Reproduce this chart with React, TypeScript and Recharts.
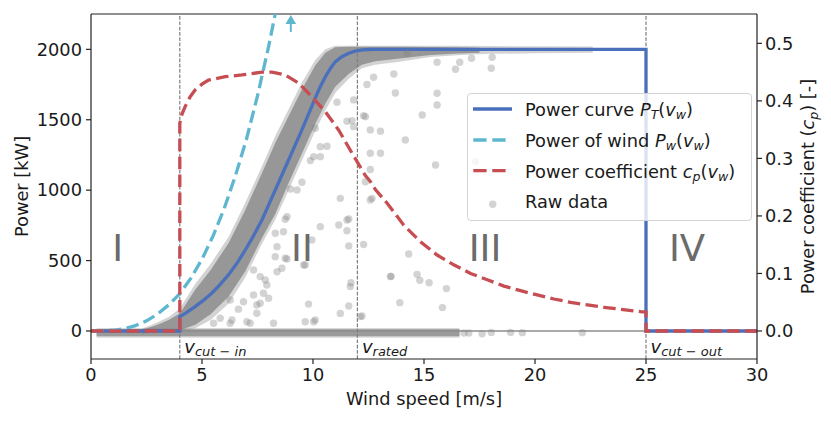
import React from 'react';
import {
  ComposedChart,
  XAxis,
  YAxis,
  Line,
  Area,
  Scatter,
  ReferenceLine,
  ReferenceDot,
  Legend,
} from 'recharts';

const FONT = '"DejaVu Sans", Verdana, sans-serif';
const BLUE = '#4a70bb';
const CYAN = '#5fb6cf';
const RED = '#c64e52';
const DOT = '#808080';
const INK = '#1a1a1a';
const FS = 17.8;

// ---- axes ----
const speedTicks = [0, 5, 10, 15, 20, 25, 30];
const powerTicks = [0, 500, 1000, 1500, 2000];
const cpTicks = [0, 0.1, 0.2, 0.3, 0.4, 0.5];
const powerDomain = [-199, 2251];
const cpDomain = [-0.0487, 0.551];

// ---- power curve P_T(v_w) [kW] ----
const curveSpeed = [0, 4, 4, 4.3, 4.69, 5.0, 5.44, 5.8, 6.19, 6.6, 6.95, 7.3, 7.7, 8.3, 8.9, 9.5, 10.1, 10.3, 10.56, 10.8, 11.01, 11.3, 11.61, 11.9, 12.21, 12.5, 12.8, 25, 25, 30];
const curvePower = [0, 0, 102, 130, 173, 210, 268, 328, 398, 487, 575, 670, 788, 1001, 1214, 1428, 1653, 1725, 1806, 1868, 1913, 1948, 1972, 1987, 1996, 1999, 2000, 2000, 0, 0];

// ---- power of wind P_w(v_w) [kW] ----
const windSpeed = [0, 1, 1.5, 2, 2.5, 3, 3.5, 4, 4.5, 5, 5.5, 6, 6.5, 7, 7.5, 8, 8.4];
const windPower = [0, 5, 16, 38, 72, 120, 185, 265, 375, 510, 675, 870, 1100, 1360, 1670, 2020, 2330];

// ---- power coefficient c_p(v_w) [-] ----
const cpSpeed = [0, 4, 4, 4.1, 4.24, 4.45, 4.69, 5.0, 5.29, 6.04, 6.8, 7.7, 8.15, 8.75, 9.35, 9.95, 10.56, 11.16, 11.76, 12.36, 12.58, 12.81, 13.34, 14.09, 14.84, 15.59, 16.34, 17.1, 17.85, 18.6, 19.35, 20.1, 20.85, 21.6, 22.36, 23.1, 23.86, 24.76, 25, 25, 30];
const cpValue = [0, 0, 0.361, 0.377, 0.39, 0.406, 0.419, 0.429, 0.436, 0.442, 0.445, 0.45, 0.45, 0.445, 0.431, 0.407, 0.381, 0.349, 0.309, 0.27, 0.26, 0.246, 0.222, 0.184, 0.155, 0.132, 0.115, 0.1, 0.089, 0.078, 0.07, 0.0626, 0.0556, 0.0499, 0.0452, 0.0412, 0.0377, 0.0336, 0.033, 0, 0];

// ---- raw data: dense band along the curve (fuzzy outer edge and dense core) ----
const bandSpeed = [2.3, 2.7, 3.0, 3.5, 4.0, 4.7, 5.4, 6.2, 6.95, 7.7, 8.3, 8.9, 9.5, 10.1, 10.56, 11.0, 11.6, 12.2, 12.8, 13.9, 15.3, 16.5, 18.0, 20.0, 22.6];
const bandOuterLow = [-25, -5, 0, 0, 0, 20, 80, 195, 380, 620, 790, 1000, 1210, 1420, 1565, 1690, 1790, 1865, 1890, 1912, 1945, 1958, 1968, 1972, 1975];
const bandOuterHigh = [18, 40, 62, 100, 160, 335, 480, 670, 910, 1170, 1385, 1575, 1765, 1925, 2000, 2026, 2026, 2026, 2026, 2026, 2026, 2025, 2023, 2022, 2020];
const coreSpeed = [2.3, 2.7, 3.0, 3.5, 4.0, 4.7, 5.4, 6.2, 6.95, 7.7, 8.3, 8.9, 9.5, 10.1, 10.56, 11.0, 11.6, 12.2, 12.8, 13.9, 15.3, 16.5, 17.5];
const coreLow = [-15, 0, 0, 0, 5, 45, 120, 245, 425, 660, 830, 1050, 1260, 1470, 1615, 1735, 1825, 1890, 1915, 1935, 1960, 1970, 1976];
const coreHigh = [10, 28, 45, 78, 125, 295, 435, 625, 860, 1120, 1335, 1525, 1715, 1885, 1975, 2014, 2018, 2018, 2018, 2018, 2017, 2015, 2012];

// ---- raw data: stopped turbine (power ~ 0) ----
const zeroSpeed = [0.25, 16.6];
const zeroOuterLow = [-48, -48];
const zeroOuterHigh = [22, 22];
const zeroCoreLow = [-38, -38];
const zeroCoreHigh = [13, 13];

// ---- raw data: individual scattered points [m/s, kW] ----
const rawSpeed = [5.52, 5.82, 6.27, 6.27, 6.35, 6.64, 6.87, 7.02, 7.17, 7.32, 7.32, 7.47, 7.47, 7.62, 7.62, 7.77, 7.85, 7.92, 8.0, 8.22, 8.3, 8.3, 8.38, 8.38, 8.6, 8.67, 8.75, 8.75, 8.83, 8.83, 8.98, 9.28, 9.5, 9.58, 9.65, 9.65, 9.8, 9.88, 9.95, 10.03, 10.03, 10.1, 10.1, 10.33, 10.33, 10.33, 10.63, 11.08, 11.16, 11.23, 11.23, 11.53, 11.53, 11.53, 11.61, 11.61, 11.61, 11.68, 11.71, 11.76, 11.83, 11.83, 12.13, 12.21, 12.28, 12.28, 12.36, 12.36, 12.43, 12.58, 12.58, 12.58, 12.58, 12.66, 12.73, 13.04, 13.04, 13.49, 13.52, 13.64, 13.71, 13.91, 14.16, 14.24, 14.31, 14.69, 14.81, 14.92, 15.23, 15.52, 15.59, 15.59, 15.59, 15.83, 16.01, 16.42, 16.61, 17.14, 17.32, 18.03, 18.07, 16.8, 17.02, 17.62, 18.03, 18.9, 19.43, 22.13];
const rawPower = [55, 90, 55, 220, 78, 155, 208, 66, 55, 256, 433, 126, 185, 197, 386, 268, 362, 327, 232, 55, 528, 694, 421, 599, 445, 705, 516, 793, 511, 812, 1008, 1001, 1056, 469, 66, 469, 191, 1210, 646, 66, 1238, 78, 1440, 741, 1238, 1309, 1312, 1624, 753, 942, 125, 712, 788, 1489, 795, 604, 177, 315, 343, 1494, 1451, 1641, 102, 106, 614, 1529, 1060, 1522, 1750, 930, 1147, 1262, 1428, 942, 1802, 1262, 1419, 387, 388, 1825, 1690, 201, 1357, 1972, 547, 402, 360, 1534, 343, 1179, 1605, 1688, 1908, 166, 301, 1859, 1908, 1937, 1202, 1866, 1944, -14, -14, -20, -10, -10, -12, -12];

// ---- regions ----
const regionNames = ['I', 'II', 'III', 'IV'];
const regionSpeed = [1.2, 9.5, 17.75, 26.85];
const regionPower = 500;

// ---- characteristic speeds ----
const cutInSpeed = 4;
const ratedSpeed = 12;
const cutOutSpeed = 25;
const arrowSpeed = 9;
const arrowShaft = [2124, 2195];
const arrowTip = 2244;

const curveData = curveSpeed.map((v, i) => ({ v, p: curvePower[i] }));
const windData = windSpeed.map((v, i) => ({ v, p: windPower[i] }));
const cpData = cpSpeed.map((v, i) => ({ v, cp: cpValue[i] }));
const bandOuter = bandSpeed.map((v, i) => ({ v, lo: bandOuterLow[i], hi: bandOuterHigh[i] }));
const bandCore = coreSpeed.map((v, i) => ({ v, lo: coreLow[i], hi: coreHigh[i] }));
const zeroOuter = zeroSpeed.map((v, i) => ({ v, lo: zeroOuterLow[i], hi: zeroOuterHigh[i] }));
const zeroCore = zeroSpeed.map((v, i) => ({ v, lo: zeroCoreLow[i], hi: zeroCoreHigh[i] }));
const rawData = rawSpeed.map((v, i) => ({ v, p: rawPower[i] }));

const rangeKey = (d: any) => [d.lo, d.hi];

const renderDot = (props: any) => (
  <circle cx={props.cx} cy={props.cy} r={3.7} fill={DOT} fillOpacity={0.35} stroke="none" />
);

const regionShape = (name: string) => (p: any) => (
  <text x={p.cx} y={p.cy} textAnchor="middle" fontSize={37} fill="#6b6b6b" fontFamily={FONT}>
    {name}
  </text>
);

const arrowHead = (p: any) => (
  <path d={`M${p.cx},${p.cy} L${p.cx - 5.3},${p.cy + 9} L${p.cx + 5.3},${p.cy + 9} Z`} fill={CYAN} />
);

const speedLabel = (sub: string) => (props: any) => {
  const vb = props.viewBox || {};
  return (
    <text x={vb.x + 4.5} y={vb.y + vb.height - 6} fontFamily={FONT} fontSize={18} fill={INK}>
      <tspan fontStyle="italic">v</tspan>
      <tspan fontStyle="italic" fontSize={13} dy={2.5}>{sub}</tspan>
    </text>
  );
};

const Sub = ({ children }: { children: React.ReactNode }) => (
  <tspan fontStyle="italic" fontSize={12.6} dy={3.5}>{children}</tspan>
);

const LegendBox = () => (
  <div
    style={{
      width: 285,
      height: 128,
      boxSizing: 'border-box',
      border: '1px solid #d4d4d4',
      borderRadius: 4,
      background: 'rgba(255,255,255,0.8)',
    }}
  >
    <svg width={283} height={126} style={{ display: 'block' }} fontFamily={FONT} fontSize={FS} fill={INK}>
      <line x1={5} x2={44} y1={15} y2={15} stroke={BLUE} strokeWidth={3.3} />
      <line x1={5.3} x2={37.6} y1={46} y2={46} stroke={CYAN} strokeWidth={3.3} strokeDasharray="13.3 5.7" />
      <line x1={5.3} x2={37.6} y1={76.7} y2={76.7} stroke={RED} strokeWidth={3.3} strokeDasharray="13.3 5.7" />
      <circle cx={24.7} cy={110.3} r={3.7} fill={DOT} fillOpacity={0.35} />
      <text x={57} y={21.7}>
        Power curve <tspan fontStyle="italic">P</tspan>
        <Sub>T</Sub>
        <tspan dy={-3.5}>(</tspan>
        <tspan fontStyle="italic">v</tspan>
        <Sub>w</Sub>
        <tspan dy={-3.5}>)</tspan>
      </text>
      <text x={57} y={52.7}>
        Power of wind <tspan fontStyle="italic">P</tspan>
        <Sub>w</Sub>
        <tspan dy={-3.5}>(</tspan>
        <tspan fontStyle="italic">v</tspan>
        <Sub>w</Sub>
        <tspan dy={-3.5}>)</tspan>
      </text>
      <text x={57} y={83.7}>
        Power coefficient <tspan fontStyle="italic">c</tspan>
        <Sub>p</Sub>
        <tspan dy={-3.5}>(</tspan>
        <tspan fontStyle="italic">v</tspan>
        <Sub>w</Sub>
        <tspan dy={-3.5}>)</tspan>
      </text>
      <text x={57} y={114.3}>Raw data</text>
    </svg>
  </div>
);

const leftLabel = (props: any) => {
  const vb = props.viewBox || {};
  const x = vb.x + 28;
  const y = vb.y + vb.height / 2;
  return (
    <text x={x} y={y} transform={`rotate(-90 ${x} ${y})`} textAnchor="middle" fontFamily={FONT} fontSize={FS} fill={INK}>
      Power [kW]
    </text>
  );
};

const rightLabel = (props: any) => {
  const vb = props.viewBox || {};
  const x = vb.x + 57;
  const y = vb.y + vb.height / 2;
  return (
    <text x={x} y={y} transform={`rotate(-90 ${x} ${y})`} textAnchor="middle" fontFamily={FONT} fontSize={FS} fill={INK}>
      Power coefficient (<tspan fontStyle="italic">c</tspan>
      <Sub>p</Sub>
      <tspan dy={-3.5}>) [-]</tspan>
    </text>
  );
};

const bottomLabel = (props: any) => {
  const vb = props.viewBox || {};
  return (
    <text x={vb.x + vb.width / 2} y={vb.y + 46} textAnchor="middle" fontFamily={FONT} fontSize={FS} fill={INK}>
      Wind speed [m/s]
    </text>
  );
};

const tickStyle = { fontSize: FS, fill: INK, fontFamily: FONT };
const axisStroke = { stroke: '#222', strokeWidth: 1.2 };

export default function App() {
  return (
    <div style={{ position: 'absolute', left: 0, top: 0, width: 831, height: 422, background: '#fff' }}>
      <ComposedChart width={831} height={422} margin={{ top: 14, right: 0, bottom: 0, left: 0 }} style={{ fontFamily: FONT }}>
        <XAxis
          xAxisId="x"
          dataKey="v"
          type="number"
          domain={[0, 30]}
          ticks={speedTicks}
          interval={0}
          allowDataOverflow
          height={63}
          tickSize={5}
          tickMargin={4}
          tick={tickStyle}
          axisLine={axisStroke}
          tickLine={axisStroke}
          label={bottomLabel}
        />
        <YAxis
          yAxisId="left"
          type="number"
          domain={powerDomain}
          ticks={powerTicks}
          interval={0}
          allowDataOverflow
          width={91}
          tickSize={5}
          tickMargin={4}
          tick={tickStyle}
          axisLine={axisStroke}
          tickLine={axisStroke}
          label={leftLabel}
        />
        <YAxis
          yAxisId="right"
          orientation="right"
          type="number"
          domain={cpDomain}
          ticks={cpTicks}
          interval={0}
          allowDataOverflow
          width={74}
          tickSize={5}
          tickMargin={3}
          tick={tickStyle}
          tickFormatter={(t: number) => t.toFixed(1)}
          axisLine={axisStroke}
          tickLine={axisStroke}
          label={rightLabel}
        />

        <Area xAxisId="x" yAxisId="left" data={zeroOuter} dataKey={rangeKey} type="linear" stroke="none" fill={DOT} fillOpacity={0.3} dot={false} activeDot={false} isAnimationActive={false} />
        <Area xAxisId="x" yAxisId="left" data={zeroCore} dataKey={rangeKey} type="linear" stroke="none" fill={DOT} fillOpacity={0.7} dot={false} activeDot={false} isAnimationActive={false} />
        <Area xAxisId="x" yAxisId="left" data={bandOuter} dataKey={rangeKey} type="linear" stroke="none" fill={DOT} fillOpacity={0.35} dot={false} activeDot={false} isAnimationActive={false} />
        <Area xAxisId="x" yAxisId="left" data={bandCore} dataKey={rangeKey} type="linear" stroke="none" fill={DOT} fillOpacity={0.72} dot={false} activeDot={false} isAnimationActive={false} />
        <Scatter xAxisId="x" yAxisId="left" data={rawData} dataKey="p" shape={renderDot} isAnimationActive={false} />

        <ReferenceLine xAxisId="x" yAxisId="left" y={0} stroke="#8c8c8c" strokeWidth={1.3} />
        <ReferenceLine xAxisId="x" yAxisId="left" y={powerDomain[1]} stroke="#222" strokeWidth={1.2} />
        <ReferenceLine xAxisId="x" yAxisId="left" x={cutInSpeed} stroke="#7f7f7f" strokeWidth={1.2} strokeDasharray="3.7 1.6" label={speedLabel('cut \u2212 in')} />
        <ReferenceLine xAxisId="x" yAxisId="left" x={ratedSpeed} stroke="#7f7f7f" strokeWidth={1.2} strokeDasharray="3.7 1.6" label={speedLabel('rated')} />
        <ReferenceLine xAxisId="x" yAxisId="left" x={cutOutSpeed} stroke="#7f7f7f" strokeWidth={1.2} strokeDasharray="3.7 1.6" label={speedLabel('cut \u2212 out')} />

        {regionNames.map((name, i) => (
          <ReferenceDot key={name} xAxisId="x" yAxisId="left" x={regionSpeed[i]} y={regionPower} r={0} shape={regionShape(name)} />
        ))}

        <Line xAxisId="x" yAxisId="left" data={curveData} dataKey="p" type="linear" stroke={BLUE} strokeWidth={3.3} dot={false} activeDot={false} isAnimationActive={false} />
        <Line xAxisId="x" yAxisId="left" data={windData} dataKey="p" type="linear" stroke={CYAN} strokeWidth={3.3} strokeDasharray="12.5 5.4" dot={false} activeDot={false} isAnimationActive={false} />
        <Line xAxisId="x" yAxisId="right" data={cpData} dataKey="cp" type="linear" stroke={RED} strokeWidth={3.3} strokeDasharray="12.5 5.4" dot={false} activeDot={false} isAnimationActive={false} />

        <ReferenceLine
          xAxisId="x"
          yAxisId="left"
          segment={[{ x: arrowSpeed, y: arrowShaft[0] }, { x: arrowSpeed, y: arrowShaft[1] }]}
          stroke={CYAN}
          strokeWidth={2}
        />
        <ReferenceDot xAxisId="x" yAxisId="left" x={arrowSpeed} y={arrowTip} r={0} shape={arrowHead} />

        <Legend
          layout="vertical"
          align="center"
          verticalAlign="middle"
          content={() => <LegendBox />}
          wrapperStyle={{ left: 467, top: 93, width: 285, height: 128 }}
        />
      </ComposedChart>
    </div>
  );
}
